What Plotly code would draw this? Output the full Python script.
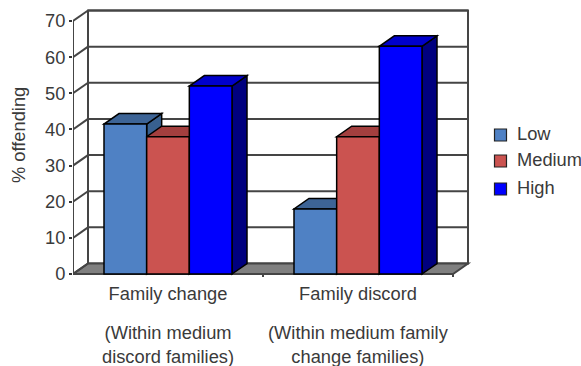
import plotly.graph_objects as go

# Chart values
groups = ["Family change", "Family discord"]
subtitles = ["(Within medium<br>discord families)", "(Within medium family<br>change families)"]
series_names = ["Low", "Medium", "High"]
y_title = "% offending"
low_values = [41.5, 18]
medium_values = [38, 38]
high_values = [52, 63]
y_ticks = [0, 10, 20, 30, 40, 50, 60, 70]

# Colours per series: front, top and side faces
front_colors = ["#4F81C4", "#CB5350", "#0000FF"]
top_colors = ["#3D6496", "#A33F3E", "#0000CC"]
side_colors = ["#38608F", "#943A38", "#00007F"]

# Canvas and plot area in pixels
W, H = 581, 366
L, R, T, B = 73, 472, 9, 277
FONT_SIZE = 18.3
TEXT_COLOR = "#3a3a3a"

# Oblique projection of the depth axis, in axis units
DX = 15 / 190
DY = 10.5 / 3.614
BAR_W = 128 / 190 / 3
Y_TOP = 70
EDGE = dict(color="#000000", width=1.5)
WALL = dict(color="#454545", width=2)


def px(x):
    return (x - L) / (R - L)


def py(y):
    return (B - y) / (B - T)


def poly(points, fill, line):
    path = "M" + "L".join(f"{x},{y}" for x, y in points) + "Z"
    return dict(type="path", path=path, xref="x", yref="y", fillcolor=fill, line=line, layer="below")


def seg(x0, y0, x1, y1, line):
    return dict(type="line", x0=x0, y0=y0, x1=x1, y1=y1, xref="x", yref="y", line=line, layer="below")


x_left, x_right = -0.5, 1.5
shapes = []

# Back wall, floor and the gridlines that wrap from the front edge to the wall
shapes.append(poly([(x_left + DX, DY), (x_right + DX, DY), (x_right + DX, Y_TOP + DY), (x_left + DX, Y_TOP + DY)],
                   "#FFFFFF", WALL))
shapes.append(poly([(x_left, 0), (x_right, 0), (x_right + DX, DY), (x_left + DX, DY)], "#808080", WALL))
for t in y_ticks:
    shapes.append(seg(x_left, t, x_left + DX, t + DY, WALL))
    if t:
        shapes.append(seg(x_left + DX, t + DY, x_right + DX, t + DY, WALL))
shapes.append(seg(x_left, 0, x_left, Y_TOP, WALL))
shapes.append(seg(x_left, 0, x_right, 0, WALL))
for xb in (0.5, 1.5):
    shapes.append(seg(xb, 0, xb, -0.8, WALL))

# Top and side faces of each bar, painted left to right
all_values = [low_values, medium_values, high_values]
for g in range(len(groups)):
    for s, values in enumerate(all_values):
        v = values[g]
        x0 = g - 1.5 * BAR_W + s * BAR_W
        x1 = x0 + BAR_W
        shapes.append(poly([(x1, 0), (x1 + DX, DY), (x1 + DX, v + DY), (x1, v)], side_colors[s], EDGE))
        shapes.append(poly([(x0, v), (x1, v), (x1 + DX, v + DY), (x0 + DX, v + DY)], top_colors[s], EDGE))

fig = go.Figure()
for s, values in enumerate(all_values):
    fig.add_trace(go.Bar(
        x=[0, 1], y=values, name=series_names[s], showlegend=False,
        marker=dict(color=front_colors[s], line=dict(color="#000000", width=1.5)),
    ))

# Key to the right of the plot
legend_rows = [135, 161, 189]
for name, color, cy in zip(series_names, front_colors, legend_rows):
    shapes.append(dict(type="rect", xref="paper", yref="paper",
                       x0=px(494.5), x1=px(506.5), y0=py(cy - 6), y1=py(cy + 6),
                       fillcolor=color, line=dict(color="#222222", width=1.2)))

text_font = dict(size=FONT_SIZE, color=TEXT_COLOR)
annotations = [
    dict(text=name, xref="paper", yref="paper", x=px(514.5), y=py(cy - 2), xanchor="left", yanchor="middle",
         showarrow=False, font=text_font)
    for name, cy in zip(series_names, legend_rows)
]
for g, text in enumerate(subtitles):
    annotations.append(dict(text=text, xref="x", yref="paper", x=g, y=py(344), xanchor="center", yanchor="middle",
                            showarrow=False, font=text_font, align="center"))
annotations.append(dict(text=y_title, xref="paper", yref="paper", x=px(18), y=py(135), xanchor="center",
                        yanchor="middle", textangle=-90, showarrow=False, font=text_font))

fig.update_layout(
    width=W, height=H,
    margin=dict(l=L, r=W - R, t=T, b=H - B, autoexpand=False),
    paper_bgcolor="#FFFFFF", plot_bgcolor="#FFFFFF",
    font=dict(family="Liberation Sans", size=FONT_SIZE, color=TEXT_COLOR),
    barmode="group", bargap=1 - 3 * BAR_W, bargroupgap=0,
    shapes=shapes, annotations=annotations,
    xaxis=dict(range=[x_left, x_left + (R - L) / 190], tickvals=[0, 1], ticktext=groups,
               showgrid=False, zeroline=False, showline=False, ticks="", ticklabelstandoff=4),
    yaxis=dict(range=[(274 - B) / 3.614, (274 - T) / 3.614], tickvals=y_ticks,
               showgrid=False, zeroline=False, showline=False,
               ticks="outside", ticklen=3, tickwidth=1.5, tickcolor="#333333"),
)

fig.write_html("out.html")
